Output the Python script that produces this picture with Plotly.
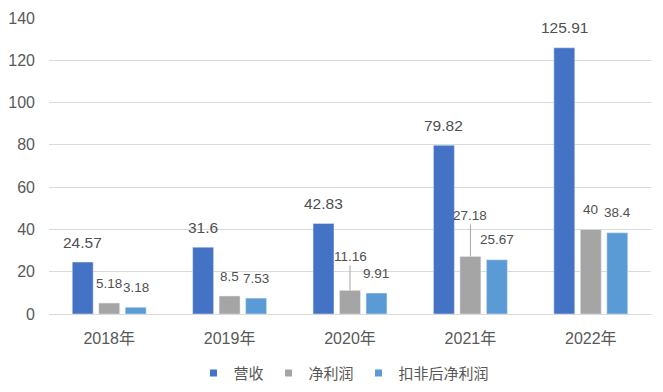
import plotly.graph_objects as go

categories = ["2018年", "2019年", "2020年", "2021年", "2022年"]
revenue = [24.57, 31.6, 42.83, 79.82, 125.91]
net_profit = [5.18, 8.5, 11.16, 27.18, 40]
net_profit_deducted = [3.18, 7.53, 9.91, 25.67, 38.4]
label_texts = {
    "营收": ["24.57", "31.6", "42.83", "79.82", "125.91"],
    "净利润": ["5.18", "8.5", "11.16", "27.18", "40"],
    "扣非后净利润": ["3.18", "7.53", "9.91", "25.67", "38.4"],
}
y_ticks = [0, 20, 40, 60, 80, 100, 120, 140]

series = [
    ("营收", revenue, "#4472C4", 15.5),
    ("净利润", net_profit, "#A5A5A5", 13.5),
    ("扣非后净利润", net_profit_deducted, "#5B9BD5", 13.5),
]
# labels with leader lines: (series name, category index) -> pixel offset
leader = {("净利润", 2): 34, ("净利润", 3): 41}

FONT = "Liberation Sans, Arial, Noto Sans CJK SC, sans-serif"
BARGAP = 0.34
slot = (1 - BARGAP) / 3

fig = go.Figure()
for name, vals, color, _ in series:
    fig.add_trace(go.Bar(x=categories, y=vals, name=name, marker_color=color,
                         showlegend=False))
for name, vals, color, _ in series:
    fig.add_trace(go.Scatter(x=[None], y=[None], mode="markers", name=name,
                             marker=dict(symbol="square", size=7, color=color)))

LABEL_COLOR = "#505050"
annotations = []
for si, (name, vals, color, fsize) in enumerate(series):
    off = (si - 1) * slot
    for ci, v in enumerate(vals):
        key = (name, ci)
        if key in leader:
            annotations.append(dict(
                x=ci + off, y=v, xref="x", yref="y", text=label_texts[name][ci],
                showarrow=True, arrowhead=0, arrowwidth=1, arrowcolor="#A6A6A6",
                ax=0, ay=-leader[key], standoff=0,
                font=dict(size=fsize, color=LABEL_COLOR, family=FONT)))
        else:
            annotations.append(dict(
                x=ci + off, y=v, xref="x", yref="y", text=label_texts[name][ci],
                showarrow=False, yanchor="middle", yshift=20,
                font=dict(size=fsize, color=LABEL_COLOR, family=FONT)))

# the page body adds an 8px offset, margins compensate for it
fig.update_layout(
    width=663, height=392,
    margin=dict(l=41, r=20, t=10, b=84),
    paper_bgcolor="white", plot_bgcolor="white",
    barmode="group", bargap=BARGAP, bargroupgap=0.21,
    font=dict(family=FONT, color="#595959", size=16),
    xaxis=dict(type="category", showgrid=False, showline=True, linecolor="#D9D9D9",
               linewidth=1, tickfont=dict(size=16, color="#595959"), ticks="",
               ticklabelstandoff=10, automargin=False),
    yaxis=dict(range=[0, 140], tickvals=y_ticks, showgrid=True, gridcolor="#D9D9D9",
               gridwidth=1, zeroline=False, showline=False,
               tickfont=dict(size=16, color="#595959"), ticklabelstandoff=13,
               automargin=False),
    legend=dict(orientation="h", x=0.49, xanchor="center", y=-0.2, yanchor="middle",
                font=dict(size=15, color="#595959")),
    annotations=annotations,
)

fig.write_html("out.html")
